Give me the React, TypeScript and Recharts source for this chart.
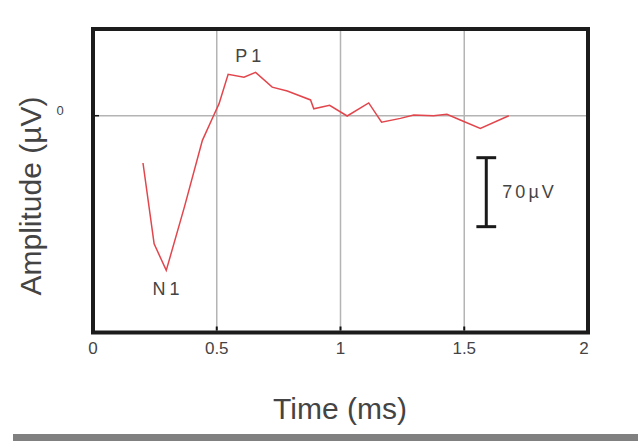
import React from 'react';
import { LineChart, Line, XAxis, YAxis, CartesianGrid, ReferenceArea, ReferenceLine, ReferenceDot } from 'recharts';

const timeMs = [0.202, 0.247, 0.296, 0.37, 0.442, 0.487, 0.509, 0.546, 0.61, 0.657, 0.724, 0.785, 0.879, 0.892, 0.956, 1.027, 1.114, 1.166, 1.242, 1.296, 1.376, 1.43, 1.484, 1.565, 1.68];
const amplitude = [-48, -130, -157, -92, -25, 0, 12, 42, 39, 44, 29, 25, 16, 7, 10.5, -0.3, 13, -6.5, -2.7, 0.7, 0, 1.4, -4.4, -12.8, 0];
const xTicks = [0, 0.5, 1, 1.5, 2];
const xTickLabels = ['0', '0.5', '1', '1.5', '2'];
const yTicks = [0];
const yTickLabels = ['0'];
const peakLabels = [
  { name: 'P1', x: 0.635, y: 62 },
  { name: 'N1', x: 0.303, y: -175 },
];
const scaleBar = { x: 1.589, top: -42.6, bottom: -112.6, capHalf: 0.04, label: '70µV', labelX: 1.654, labelY: -76 };

const data = timeMs.map((t, i) => ({ t, v: amplitude[i] }));

const FONT = '"Liberation Sans", Arial, sans-serif';
const TEXT = '#444';

const XTick = (props: any) => {
  const { x, y, payload } = props;
  const label = xTickLabels[xTicks.indexOf(payload.value)] ?? String(payload.value);
  const inner = payload.value > 0 && payload.value < 2;
  return (
    <g>
      {inner && <line x1={x} x2={x} y1={y - 2} y2={y - 6} stroke="#111" strokeWidth={2} />}
      <text x={payload.value === 2 ? x - 4 : x} y={y + 21} textAnchor="middle" fontSize={17} fontFamily={FONT} fill={TEXT}>
        {label}
      </text>
    </g>
  );
};

const YTick = (props: any) => {
  const { x, y, payload } = props;
  const label = yTickLabels[yTicks.indexOf(payload.value)] ?? String(payload.value);
  return (
    <g>
      <line x1={x + 2} x2={x + 6} y1={y} y2={y} stroke="#111" strokeWidth={1.5} />
      <text x={60} y={y - 1} textAnchor="middle" fontSize={13} fontFamily={FONT} fill={TEXT}>
        {label}
      </text>
    </g>
  );
};

export default function App() {
  return (
    <div style={{ position: 'absolute', left: 0, top: 0, width: 638, height: 441, background: '#fff' }}>
      <LineChart width={638} height={441} data={data} margin={{ top: 29, right: 50, left: 0, bottom: 0 }}>
        <CartesianGrid stroke="#b4b4b4" strokeWidth={1.5} />
        <XAxis
          dataKey="t"
          type="number"
          domain={[0, 2]}
          ticks={xTicks}
          height={108.5}
          axisLine={false}
          tickLine={false}
          tickSize={0}
          tickMargin={0}
          tick={<XTick />}
          interval={0}
          label={{
            content: () => (
              <text x={340} y={419} textAnchor="middle" fontSize={30} fontFamily={FONT} fill={TEXT}>
                Time (ms)
              </text>
            ),
          }}
        />
        <YAxis
          type="number"
          domain={[-220, 88]}
          ticks={yTicks}
          width={93}
          axisLine={false}
          tickLine={false}
          tickSize={0}
          tickMargin={0}
          tick={<YTick />}
          interval={0}
          label={{
            content: () => (
              <text x={41} y={196} textAnchor="middle" fontSize={30} fontFamily={FONT} fill={TEXT} transform="rotate(-90 41 196)">
                Amplitude (µV)
              </text>
            ),
          }}
        />
        <Line dataKey="v" stroke="#e2464c" strokeWidth={1.5} dot={false} isAnimationActive={false} />
        <ReferenceLine segment={[{ x: scaleBar.x, y: scaleBar.top }, { x: scaleBar.x, y: scaleBar.bottom }]} stroke="#1a1a1a" strokeWidth={3} />
        <ReferenceLine segment={[{ x: scaleBar.x - scaleBar.capHalf, y: scaleBar.top }, { x: scaleBar.x + scaleBar.capHalf, y: scaleBar.top }]} stroke="#1a1a1a" strokeWidth={3} />
        <ReferenceLine segment={[{ x: scaleBar.x - scaleBar.capHalf, y: scaleBar.bottom }, { x: scaleBar.x + scaleBar.capHalf, y: scaleBar.bottom }]} stroke="#1a1a1a" strokeWidth={3} />
        <ReferenceDot
          x={scaleBar.labelX}
          y={scaleBar.labelY}
          r={0}
          fill="none"
          stroke="none"
          label={{
            content: (p: any) => (
              <text x={p.viewBox.x} y={p.viewBox.y + 7} textAnchor="start" fontSize={18} letterSpacing={3} fontFamily={FONT} fill={TEXT}>
                {scaleBar.label}
              </text>
            ),
          }}
        />
        {peakLabels.map((pk) => (
          <ReferenceDot
            key={pk.name}
            x={pk.x}
            y={pk.y}
            r={0}
            fill="none"
            stroke="none"
            label={{
              content: (p: any) => (
                <text x={p.viewBox.x} y={p.viewBox.y + 7} textAnchor="middle" fontSize={18} letterSpacing={4} fontFamily={FONT} fill={TEXT}>
                  {pk.name}
                </text>
              ),
            }}
          />
        ))}
        <ReferenceArea x1={0} x2={2} y1={-220} y2={88} fill="none" stroke="#1c1c1c" strokeWidth={4} ifOverflow="visible" />
      </LineChart>
      <div style={{ position: 'absolute', left: 13, top: 434, width: 625, height: 7, background: '#808080' }} />
    </div>
  );
}
